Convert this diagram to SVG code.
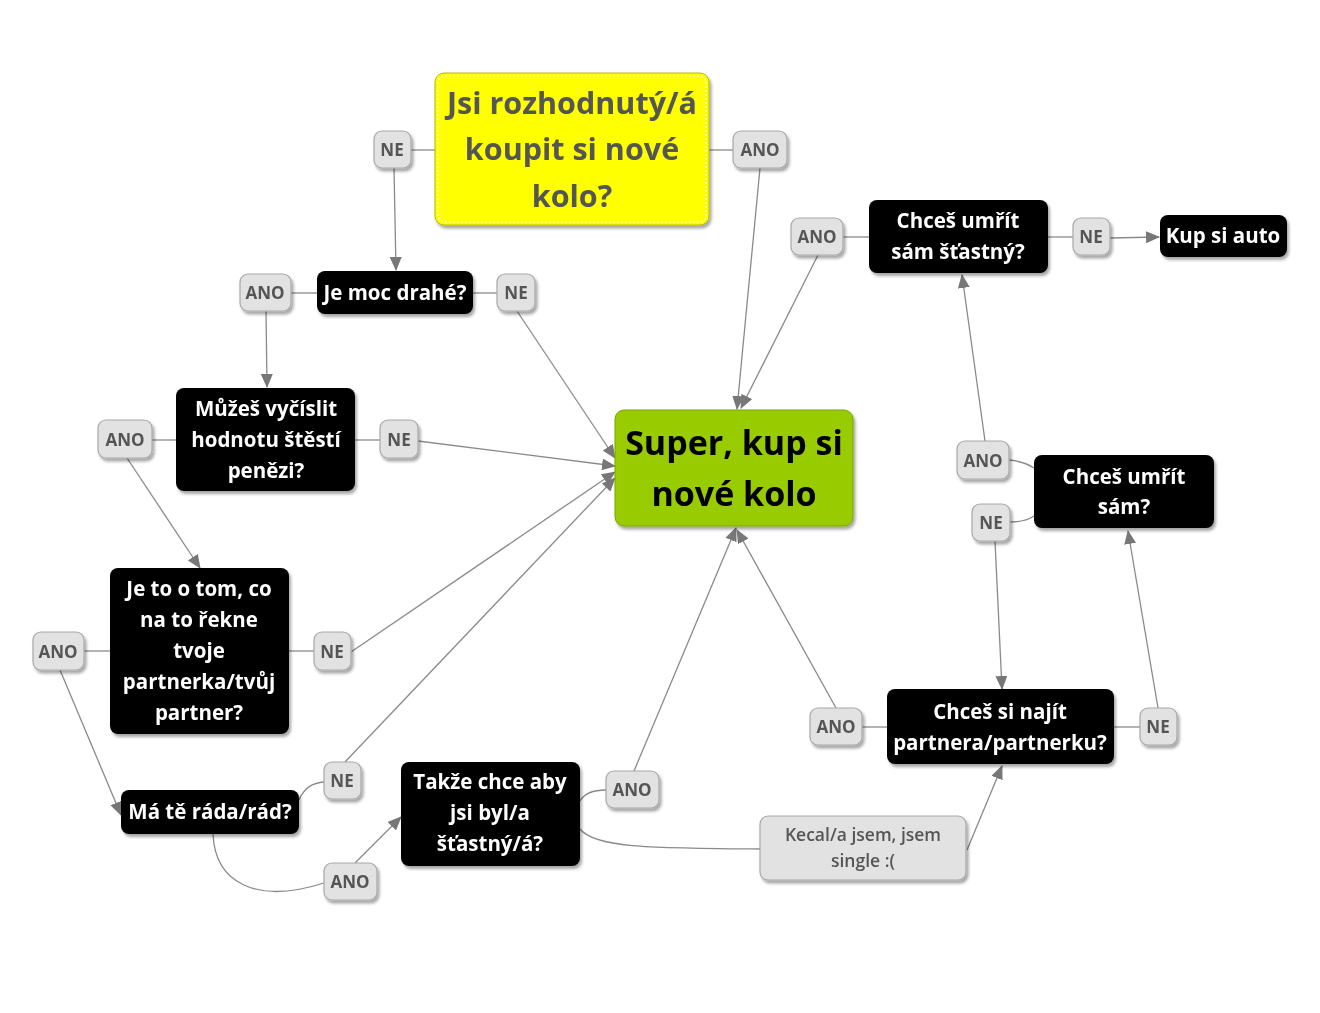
<svg xmlns="http://www.w3.org/2000/svg" width="1320" height="1013" viewBox="0 0 1320 1013">
<style>
.node rect{fill:#000;}
.node text{fill:#fff;font-family:"Open Sans","Noto Sans",sans-serif;font-weight:bold;font-size:20.5px;text-anchor:middle;}
.lbl rect{fill:#e2e2e2;stroke:#a8a8a8;stroke-width:1.2;}
.lbl text{fill:#555;font-family:"Open Sans","Noto Sans",sans-serif;font-weight:bold;font-size:17px;text-anchor:middle;}
.conn path{fill:none;stroke:#8a8a8a;stroke-width:1.3;}
.arr{marker-end:url(#ah);}
</style>
<defs>
<marker id="ah" markerUnits="userSpaceOnUse" markerWidth="14" markerHeight="12" refX="13" refY="6" orient="auto">
<path d="M0,0 L14,6 L0,12 z" fill="#777"/>
</marker>
<filter id="sh" x="-10%" y="-10%" width="125%" height="130%">
<feDropShadow dx="2" dy="3" stdDeviation="1.5" flood-color="#000" flood-opacity="0.35"/>
</filter>
</defs>
<rect width="1320" height="1013" fill="#fff"/>

<g id="connectors" class="conn">
<path d="M411,150 L435,150"/>
<path class="arr" d="M394,168 L396,270"/>
<path d="M709,150 L733,150"/>
<path class="arr" d="M760,168 L737,409"/>
<path d="M291,293 L317,293"/>
<path d="M473,293 L497,293"/>
<path class="arr" d="M266,311 L267,387"/>
<path class="arr" d="M517,311 L615,458"/>
<path d="M152,440 L176,440"/>
<path d="M355,440 L380,440"/>
<path class="arr" d="M418,441 L615,466"/>
<path class="arr" d="M127,458 L200,568"/>
<path d="M84,651 L110,651"/>
<path d="M289,651 L314,651"/>
<path class="arr" d="M351,652 L615,472"/>
<path class="arr" d="M60,670 L121,815"/>
<path d="M299,800 C305,786 314,783 324,782"/>
<path class="arr" d="M345,762 L615,478"/>
<path d="M213,834 C215,882 255,905 324,883"/>
<path class="arr" d="M355,863 L401,817"/>
<path d="M580,801 C585,792 595,790 606,790"/>
<path class="arr" d="M634,771 L736,528"/>
<path d="M580,829 C595,848 650,848 760,849"/>
<path class="arr" d="M967,850 L1002,766"/>
<path d="M862,727 L887,727"/>
<path d="M1114,727 L1140,727"/>
<path class="arr" d="M836,708 L737,530"/>
<path class="arr" d="M1158,708 L1128,531"/>
<path d="M1009,460 C1020,461 1028,464 1034,468"/>
<path d="M1010,522 C1020,522 1028,520 1034,516"/>
<path class="arr" d="M995,541 L1002,689"/>
<path class="arr" d="M985,441 L962,275"/>
<path d="M843,237 L869,237"/>
<path d="M1048,237 L1073,237"/>
<path class="arr" d="M1110,238 L1159,237"/>
<path class="arr" d="M818,255 L741,408"/>
</g>

<g id="start" filter="url(#sh)">
<rect x="435" y="73" width="274" height="152" rx="9" fill="#ffff00" stroke="#b8b800" stroke-width="1"/>
<rect x="438" y="76" width="268" height="146" rx="7" fill="none" stroke="#fff" stroke-width="1.2" stroke-dasharray="2,2"/>
<text font-family="'Open Sans','Noto Sans',sans-serif" font-weight="bold" font-size="30.5" fill="#555" text-anchor="middle"><tspan x="572" y="114">Jsi rozhodnutý/á</tspan><tspan x="572" y="160">koupit si nové</tspan><tspan x="572" y="207">kolo?</tspan></text>
</g>

<g id="goal" filter="url(#sh)">
<rect x="615" y="410" width="238" height="116" rx="9" fill="#99cc00" stroke="#7aa300" stroke-width="1"/>
<text font-family="'Open Sans','Noto Sans',sans-serif" font-weight="bold" font-size="34" fill="#000" text-anchor="middle"><tspan x="734" y="455">Super, kup si</tspan><tspan x="734" y="506">nové kolo</tspan></text>
</g>

<g id="n-drahe" class="node" filter="url(#sh)">
<rect x="317" y="271" width="156" height="43" rx="8"/>
<text x="395" y="300">Je moc drahé?</text>
</g>
<g id="n-vycislit" class="node" filter="url(#sh)">
<rect x="176" y="388" width="179" height="103" rx="8"/>
<text><tspan x="266" y="416">Můžeš vyčíslit</tspan><tspan x="266" y="447">hodnotu štěstí</tspan><tspan x="266" y="478">penězi?</tspan></text>
</g>
<g id="n-partner" class="node" filter="url(#sh)">
<rect x="110" y="568" width="179" height="166" rx="8"/>
<text><tspan x="199" y="596">Je to o tom, co</tspan><tspan x="199" y="627">na to řekne</tspan><tspan x="199" y="658">tvoje</tspan><tspan x="199" y="689">partnerka/tvůj</tspan><tspan x="199" y="720">partner?</tspan></text>
</g>
<g id="n-rada" class="node" filter="url(#sh)">
<rect x="121" y="790" width="178" height="44" rx="8"/>
<text x="210" y="819">Má tě ráda/rád?</text>
</g>
<g id="n-stastny" class="node" filter="url(#sh)">
<rect x="401" y="762" width="179" height="104" rx="8"/>
<text><tspan x="490" y="789">Takže chce aby</tspan><tspan x="490" y="820">jsi byl/a</tspan><tspan x="490" y="851">šťastný/á?</tspan></text>
</g>
<g id="n-najit" class="node" filter="url(#sh)">
<rect x="887" y="689" width="227" height="75" rx="8"/>
<text><tspan x="1000" y="719">Chceš si najít</tspan><tspan x="1000" y="750">partnera/partnerku?</tspan></text>
</g>
<g id="n-umrit" class="node" filter="url(#sh)">
<rect x="1034" y="455" width="180" height="73" rx="8"/>
<text><tspan x="1124" y="484">Chceš umřít</tspan><tspan x="1124" y="514">sám?</tspan></text>
</g>
<g id="n-umrit-stastny" class="node" filter="url(#sh)">
<rect x="869" y="200" width="179" height="73" rx="8"/>
<text><tspan x="958" y="228">Chceš umřít</tspan><tspan x="958" y="259">sám šťastný?</tspan></text>
</g>
<g id="n-auto" class="node" filter="url(#sh)">
<rect x="1160" y="215" width="127" height="42" rx="8"/>
<text x="1223" y="243">Kup si auto</text>
</g>

<g id="n-kecal" filter="url(#sh)">
<rect x="760" y="816" width="206" height="64" rx="8" fill="#e2e2e2" stroke="#a8a8a8" stroke-width="1.2"/>
<text font-family="'Open Sans','Noto Sans',sans-serif" font-weight="600" font-size="17.5" fill="#555" text-anchor="middle"><tspan x="863" y="841">Kecal/a jsem, jsem</tspan><tspan x="863" y="867">single :(</tspan></text>
</g>

<g id="l-ne1" class="lbl" filter="url(#sh)"><rect x="374" y="131" width="37" height="37" rx="8"/><text x="392" y="156">NE</text></g>
<g id="l-ano1" class="lbl" filter="url(#sh)"><rect x="733" y="131" width="54" height="37" rx="8"/><text x="760" y="156">ANO</text></g>
<g id="l-ano2" class="lbl" filter="url(#sh)"><rect x="240" y="274" width="51" height="37" rx="8"/><text x="265" y="299">ANO</text></g>
<g id="l-ne2" class="lbl" filter="url(#sh)"><rect x="497" y="274" width="38" height="37" rx="8"/><text x="516" y="299">NE</text></g>
<g id="l-ano3" class="lbl" filter="url(#sh)"><rect x="98" y="420" width="54" height="38" rx="8"/><text x="125" y="446">ANO</text></g>
<g id="l-ne3" class="lbl" filter="url(#sh)"><rect x="380" y="420" width="38" height="38" rx="8"/><text x="399" y="446">NE</text></g>
<g id="l-ano4" class="lbl" filter="url(#sh)"><rect x="33" y="632" width="51" height="38" rx="8"/><text x="58" y="658">ANO</text></g>
<g id="l-ne4" class="lbl" filter="url(#sh)"><rect x="314" y="632" width="37" height="38" rx="8"/><text x="332" y="658">NE</text></g>
<g id="l-ne5" class="lbl" filter="url(#sh)"><rect x="324" y="762" width="37" height="37" rx="8"/><text x="342" y="787">NE</text></g>
<g id="l-ano5" class="lbl" filter="url(#sh)"><rect x="324" y="863" width="53" height="37" rx="8"/><text x="350" y="888">ANO</text></g>
<g id="l-ano6" class="lbl" filter="url(#sh)"><rect x="606" y="771" width="53" height="37" rx="8"/><text x="632" y="796">ANO</text></g>
<g id="l-ano7" class="lbl" filter="url(#sh)"><rect x="810" y="708" width="52" height="37" rx="8"/><text x="836" y="733">ANO</text></g>
<g id="l-ne7" class="lbl" filter="url(#sh)"><rect x="1140" y="708" width="37" height="37" rx="8"/><text x="1158" y="733">NE</text></g>
<g id="l-ano8" class="lbl" filter="url(#sh)"><rect x="957" y="441" width="52" height="38" rx="8"/><text x="983" y="467">ANO</text></g>
<g id="l-ne8" class="lbl" filter="url(#sh)"><rect x="972" y="504" width="38" height="37" rx="8"/><text x="991" y="529">NE</text></g>
<g id="l-ano9" class="lbl" filter="url(#sh)"><rect x="791" y="218" width="52" height="37" rx="8"/><text x="817" y="243">ANO</text></g>
<g id="l-ne9" class="lbl" filter="url(#sh)"><rect x="1073" y="218" width="37" height="37" rx="8"/><text x="1091" y="243">NE</text></g>
</svg>
